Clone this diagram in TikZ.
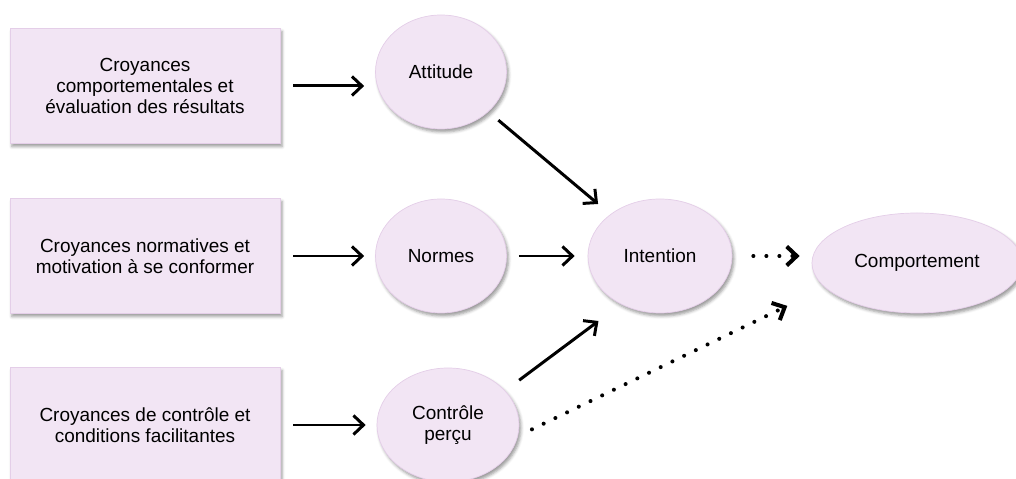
\documentclass[tikz,border=0pt]{standalone}
\usepackage{fontspec}
\setmainfont{Liberation Sans}
\usetikzlibrary{%
  arrows.meta,%
  shapes,% wg. ellipse
  shadows.blur,%
  positioning%
}
\definecolor{lav}{RGB}{242,229,244}
\definecolor{lavline}{RGB}{228,206,232}

\begin{document}
\begin{tikzpicture}
[x=0.2mm, y=-0.2mm, line width=1.7pt, >={Straight Barb[length=2mm,width=3.8mm]},
font=\fontsize{10.8}{11.8}\selectfont,
shade/.style={blur shadow={shadow xshift=0.4mm, shadow yshift=-0.6mm, shadow blur radius=0.6mm, shadow opacity=40}},
bx/.style={rectangle, draw=lavline, line width=0.4pt, fill=lav, align=center, minimum width=54mm, minimum height=23mm, inner sep=0pt, shade},
elli/.style={ellipse, draw=lavline, line width=0.4pt, fill=lav, align=center, inner sep=0pt, minimum width=26.2mm, minimum height=22.8mm, shade},
dots/.style={dash pattern=on 0pt off 2.6mm, line cap=round, line width=2.3pt}]

\useasboundingbox (0,0) rectangle (1016,479);
\clip (0,0) rectangle (1016,479);

% boxes
\node[bx] (b1) at (145,86) {Croyances\\comportementales et\\évaluation des résultats};
\node[bx] (b2) at (145,256) {Croyances normatives et\\motivation à se conformer};
\node[bx] (b3) at (145,425) {Croyances de contrôle et\\conditions facilitantes};

% ellipses
\node[elli] (att) at (441,72) {Attitude};
\node[elli] (norm) at (441,256) {Normes};
\node[elli, minimum width=28.4mm] (ctrl) at (448,425) {Contrôle\\perçu};
\node[elli, minimum width=28.8mm] (int) at (660,256) {Intention};
\node[elli, minimum width=42mm, minimum height=20mm] (comp) at (917,263) {Comportement};

% arrows
\draw[->, shorten <=2.6mm, shorten >=2.2mm] (b1.east) -- (b1.east -| att.west);
\draw[->, shorten <=2.6mm, shorten >=2.2mm] (b2.east) -- (b2.east -| norm.west);
\draw[->, shorten <=2.6mm, shorten >=2.2mm] (b3.east) -- (b3.east -| ctrl.west);
\draw[->, shorten <=2.6mm, shorten >=3.2mm] (att) -- (int);
\draw[->, shorten <=2.4mm, shorten >=2.6mm] (norm) -- (int);
\draw[->, shorten <=3.5mm, shorten >=5.6mm] (ctrl.31) -- (int.231);
\draw[->, dots, shorten <=4.2mm, shorten >=2.4mm] (int.east) -- (int.east -| comp.west);
\draw[->, dots, shorten <=3.1mm, shorten >=8.4mm] (ctrl.-9) -- (comp.195);
\end{tikzpicture}
\end{document}
